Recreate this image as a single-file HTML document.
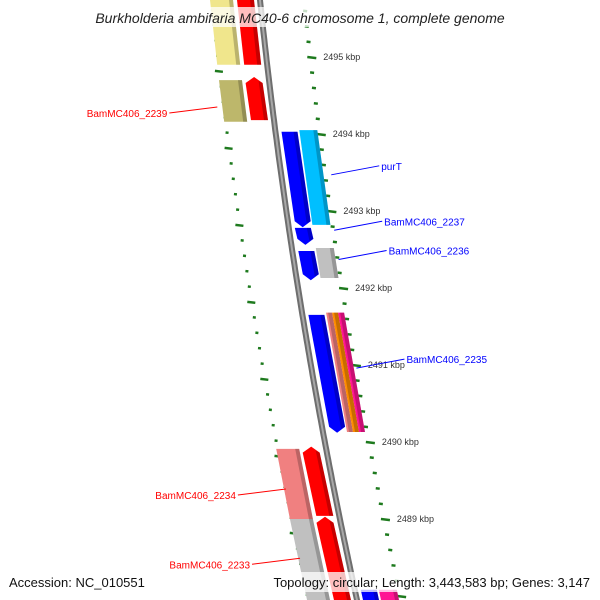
<!DOCTYPE html>
<html><head><meta charset="utf-8"><style>
body{margin:0;background:#fff;overflow:hidden}
svg{display:block;font-family:"Liberation Sans",sans-serif}
</style></head><body>
<svg id="map" width="600" height="600" viewBox="0 0 600 600"></svg>
<script>
// data (kbp positions)
const featStart = [2495.74,2495.74,2494.70,2494.74,2494.03,2494.05,2492.78,2492.48,2492.52,2491.65,2491.68,2489.91,2489.94,2489.00,2489.03,2488.08,2488.08];
const featEnd   = [2494.90,2494.90,2494.16,2494.18,2492.79,2492.82,2492.56,2492.10,2492.13,2490.12,2490.13,2489.00,2489.04,2487.90,2487.90,2487.90,2487.90];
const featLane  = ['L2','L1','L2','L1','R1','R2','R1','R1','R2','R1','R2','L2','L1','L2','L1','R1','R2'];
const featColor = ['#f0e68c','#ff0000','#bdb76b','#ff0000','#0000ff','#00bfff','#0000ff','#0000ff','#c0c0c0','#0000ff','stripe','#f08080','#ff0000','#c0c0c0','#ff0000','#0000ff','#ff1493'];
const featArrow = ['none','none','none','up','down','none','down','down','none','down','none','none','up','none','up','none','none'];
const tickMajor = [2496,2495,2494,2493,2492,2491,2490,2489,2488];
const tickLabels = ['2496 kbp','2495 kbp','2494 kbp','2493 kbp','2492 kbp','2491 kbp','2490 kbp','2489 kbp','2488 kbp'];
const geneLabels = ['BamMC406_2239','purT','BamMC406_2237','BamMC406_2236','BamMC406_2235','BamMC406_2234','BamMC406_2233'];
const geneLabelKbp = [2494.35,2493.47,2492.75,2492.37,2490.96,2489.39,2488.49];
const geneLabelSide = ['L','R','R','R','R','L','L'];

const NS='http://www.w3.org/2000/svg';
const svg=document.getElementById('map');
function yOf(k){return 57+(2495-k)*77;}
function bx(y){return 260+0.105*y+9.44e-5*y*y;}
const lanes={L2:[-50,-27],L1:[-23,-6],R1:[6,22],R2:[24,42]};
function mk(tag,attrs,parent){const e=document.createElementNS(NS,tag);for(const k in attrs)e.setAttribute(k,attrs[k]);(parent||svg).appendChild(e);return e;}
const P=(x,y)=>x.toFixed(1)+','+y.toFixed(1);

// backbone
let pts=[];for(let y=-5;y<=605;y+=5)pts.push(P(bx(y),y));
const bb=mk('polyline',{points:pts.join(' '),fill:'none',stroke:'#6e6e6e','stroke-width':6});

const bb2=mk('polyline',{points:pts.join(' '),fill:'none',stroke:'#a8a8a8','stroke-width':2});


// ticks
function tick(k,o1,o2,w,name){const y=yOf(k);if(y<-5||y>605)return;const x=bx(y);const t=mk('line',{x1:x+o1,y1:y,x2:x+o2,y2:y+(o2-o1)*0.12,stroke:'#1e7a1e','stroke-width':w});
}
for(let i=0;i<tickMajor.length;i++){
  const k=tickMajor[i];
  tick(k,41,50,2.5,'outer-major-tick');
  tick(k-0.18,-53,-45,2.5,'inner-major-tick');
  for(let j=1;j<5;j++){tick(k-j*0.2,42,46,2.5,'outer-minor-tick');tick(k-0.18-j*0.2,-50,-47,2.5,'inner-minor-tick');}
  const y=yOf(k);
  if(y<10||y>565)continue;
  const tl=mk('text',{x:bx(y)+57,y:y+3,'font-size':9,fill:'#333'});tl.textContent=tickLabels[i];
  
}

// features
function quad(k1,k2,o1,o2,color,arrow,name){
  const y1=yOf(k1),y2=yOf(k2);const x1=bx(y1),x2=bx(y2);
  let p=[];
  if(arrow==='up'){p.push(P(x1+o1,y1+6),P(x1+(o1+o2)/2,y1),P(x1+o2,y1+6));}else{p.push(P(x1+o1,y1),P(x1+o2,y1));}
  if(arrow==='down'){p.push(P(x2+o2,y2-6),P(x2+(o1+o2)/2,y2),P(x2+o1,y2-6));}else{p.push(P(x2+o2,y2),P(x2+o1,y2));}
  const e=mk('polygon',{points:p.join(' '),fill:color});
  
  const s=mk('polygon',{points:[P(x1+o2-4,y1+(arrow==='up'?4:0)),P(x1+o2,y1+(arrow==='up'?6:0)),P(x2+o2,y2-(arrow==='down'?6:0)),P(x2+o2-4,y2-(arrow==='down'?4:0))].join(' '),fill:'rgba(0,0,0,0.22)'});
  
}
for(let i=0;i<featStart.length;i++){
  const ln=lanes[featLane[i]];
  if(featColor[i]==='stripe'){
    quad(featStart[i],featEnd[i],ln[0],ln[0]+6,'#f08080','none','gene-feature');
    quad(featStart[i],featEnd[i],ln[0]+6,ln[0]+12,'#ff8c00','none','gene-feature');
    quad(featStart[i],featEnd[i],ln[0]+12,ln[1],'#ff1493','none','gene-feature');
  } else quad(featStart[i],featEnd[i],ln[0],ln[1],featColor[i],featArrow[i],'gene-feature');
}

// gene labels
for(let i=0;i<geneLabels.length;i++){
  const y=yOf(geneLabelKbp[i]);const x=bx(y);
  const col=geneLabelSide[i]==='L'?'#ff0000':'#0000ff';
  let lx1,lx2,ly2,tx,anchor;
  if(geneLabelSide[i]==='L'){lx1=x-(i===0?55:48);lx2=lx1-48;ly2=y+6;tx=lx2-2;anchor='end';}
  else{lx1=x+(i===1?50:45);lx2=lx1+48;ly2=y-9;tx=lx2+2;anchor='start';}
  const l=mk('line',{x1:lx1,y1:y,x2:lx2,y2:ly2,stroke:col,'stroke-width':1});
  
  const t=mk('text',{x:tx,y:ly2+4,'font-size':10,fill:col,'text-anchor':anchor});t.textContent=geneLabels[i];
  
}

// title & footer
const tb=mk('rect',{x:70,y:7,width:460,height:20,fill:'rgba(255,255,255,0.75)'});

const title=mk('text',{x:300,y:23,'font-size':14,'font-style':'italic','text-anchor':'middle',fill:'#222'});
title.textContent='Burkholderia ambifaria MC40-6 chromosome 1, complete genome';

const fb=mk('rect',{x:0,y:572,width:600,height:20,fill:'rgba(255,255,255,0.75)'});

const a=mk('text',{x:9,y:587,'font-size':13,fill:'#111'});a.textContent='Accession: NC_010551';

const tp=mk('text',{x:590,y:587,'font-size':13,fill:'#111','text-anchor':'end'});tp.textContent='Topology: circular; Length: 3,443,583 bp; Genes: 3,147';

</script>
</body></html>
